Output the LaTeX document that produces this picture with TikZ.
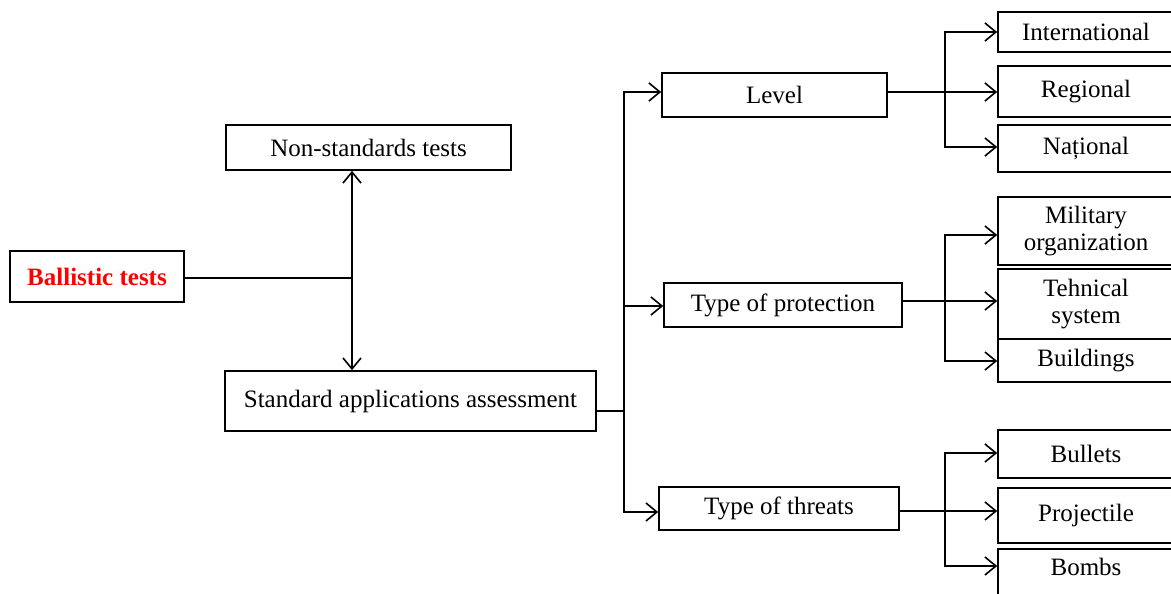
\documentclass[tikz,border=0pt]{standalone}
\usepackage{fontspec}
\setmainfont{Liberation Serif}
\usetikzlibrary{arrows.meta}
\begin{document}
\begin{tikzpicture}[x=1pt,y=-1pt,
  box/.style={draw, line width=1.6pt, inner sep=0pt, align=center,
    font=\fontsize{25}{27}\selectfont},
  link/.style={line width=1.6pt},
  arr/.style={link, -{Straight Barb[length=11pt,width=18pt,line width=1.6pt]}},
  leaf/.style={box, minimum width=176},
]
\useasboundingbox (0,0) rectangle (1171,594);
\clip (0,0) rectangle (1171,594);

% left part
\node[box, minimum width=174, minimum height=51, text=red, font=\fontsize{25}{27}\selectfont\bfseries]
  (ball) at (97,276.5) {Ballistic tests};
\node[box, minimum width=285, minimum height=45] (nonstd) at (368.5,147.5) {Non-standards tests};
\node[box, minimum width=371, minimum height=60] (std) at (410.5,401) {Standard applications assessment};

% middle column
\node[box, minimum width=225, minimum height=44] (level) at (774.5,95) {Level};
\node[box, minimum width=238, minimum height=44] (prot) at (783,305) {Type of protection};
\node[box, minimum width=240, minimum height=43] (threat) at (779,508.5) {Type of threats};

% right column
\node[leaf, minimum height=40] (intl) at (1086,32) {International};
\node[leaf, minimum height=51] (reg) at (1086,91.5) {Regional};
\node[leaf, minimum height=47] (nat) at (1086,148.5) {Național};
\node[leaf, minimum height=68] (mil) at (1086,231) {Military\\organization};
\node[leaf, minimum height=70] (teh) at (1086,304) {Tehnical\\system};
\node[leaf, minimum height=43] (bld) at (1086,360.5) {Buildings};
\node[leaf, minimum height=48] (bul) at (1086,454) {Bullets};
\node[leaf, minimum height=55] (proj) at (1086,515.5) {Projectile};
\node[leaf, anchor=north, text height=27pt, text depth=40pt] (bomb) at (1086,548) {Bombs};

% ballistic tests split
\coordinate (jb) at (352,278);
\draw[link] (ball.east |- jb) -- (jb);
\draw[arr] (jb) -- (jb |- nonstd.south);
\draw[arr] (jb) -- (jb |- std.north);

% standard assessment branches
\coordinate (js) at (624,411);
\draw[link] (std.east |- js) -- (js);
\draw[arr] (js) |- (level.west |- 0,92);
\draw[arr] (js) |- (prot.west |- 0,306);
\draw[arr] (js) |- (threat.west |- 0,512);

% level branches
\coordinate (jl) at (945,92);
\draw[arr] (level.east |- jl) -- (reg.west |- jl);
\draw[arr] (jl) |- (intl.west |- 0,32);
\draw[arr] (jl) |- (nat.west |- 0,147);

% protection branches
\coordinate (jp) at (945,301);
\draw[arr] (prot.east |- jp) -- (teh.west |- jp);
\draw[arr] (jp) |- (mil.west |- 0,235);
\draw[arr] (jp) |- (bld.west |- 0,361);

% threat branches
\coordinate (jt) at (945,511);
\draw[arr] (threat.east |- jt) -- (proj.west |- jt);
\draw[arr] (jt) |- (bul.west |- 0,453);
\draw[arr] (jt) |- (bomb.west |- 0,566);
\end{tikzpicture}
\end{document}
